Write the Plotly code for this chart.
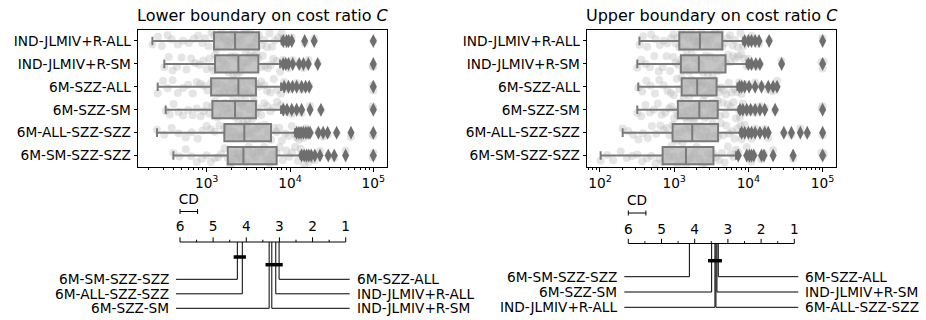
import math
import plotly.graph_objects as go

# ---------------- data ----------------
methods = ["IND-JLMIV+R-ALL", "IND-JLMIV+R-SM", "6M-SZZ-ALL",
           "6M-SZZ-SM", "6M-ALL-SZZ-SZZ", "6M-SM-SZZ-SZZ"]

# Lower boundary box statistics
lower_low = [223, 310, 258, 322, 253, 398]
lower_q1 = [1225, 1260, 1130, 1170, 1630, 1790]
lower_med = [2190, 2400, 2400, 2190, 2830, 2760]
lower_q3 = [4250, 4170, 3900, 3900, 5920, 6910]
lower_high = [7940, 7600, 7800, 7800, 11500, 13400]
lower_outliers = [
    [8300, 9100, 9600, 10500, 15000, 19500, 100000],
    [8300, 8900, 9600, 10800, 12900, 14500, 16600, 21500, 100000],
    [8500, 9600, 10700, 12000, 13800, 15400, 17000, 100000],
    [8300, 9200, 10500, 12000, 13800, 17400, 23500, 100000],
    [12000, 12800, 13600, 14500, 15500, 16500, 17400, 21900, 25000, 28300, 36300, 54000, 100000],
    [13800, 14800, 15800, 16800, 18000, 19900, 22900, 28800, 34000, 46500, 100000],
]
lower_inner = [
    [223, 260, 290, 340, 380, 450, 520, 610, 700, 790, 880, 960, 1050, 1140, 1225, 1310, 1400, 1500, 1600, 1700, 1800, 1900, 2000, 2100, 2190, 2320, 2450, 2600, 2750, 2900, 3100, 3300, 3500, 3750, 4000, 4250, 4550, 4900, 5300, 5700, 6100, 6600, 7200, 7940],
    [310, 350, 390, 440, 500, 570, 650, 730, 820, 910, 1000, 1080, 1150, 1210, 1260, 1350, 1450, 1570, 1700, 1820, 1950, 2080, 2200, 2300, 2400, 2520, 2650, 2800, 2950, 3120, 3300, 3500, 3700, 3950, 4170, 4450, 4700, 5000, 5400, 5850, 6300, 6900, 7600],
    [258, 300, 340, 390, 450, 520, 600, 680, 760, 840, 920, 1020, 1130, 1210, 1300, 1400, 1500, 1620, 1750, 1870, 2000, 2120, 2250, 2330, 2400, 2550, 2700, 2850, 3000, 3200, 3400, 3650, 3900, 4200, 4500, 4900, 5300, 5800, 6400, 7000, 7800],
    [322, 360, 400, 460, 520, 600, 680, 760, 850, 920, 1000, 1080, 1170, 1260, 1350, 1450, 1550, 1650, 1750, 1850, 1950, 2070, 2190, 2320, 2450, 2600, 2750, 2920, 3100, 3300, 3500, 3700, 3900, 4200, 4500, 4900, 5300, 5800, 6400, 7000, 7800],
    [253, 310, 380, 460, 560, 660, 780, 890, 1000, 1120, 1250, 1420, 1630, 1740, 1850, 1970, 2100, 2250, 2400, 2520, 2650, 2740, 2830, 3000, 3200, 3450, 3700, 4000, 4300, 4650, 5000, 5450, 5920, 6400, 6900, 7400, 8000, 8800, 9600, 10500, 11500],
    [398, 470, 560, 650, 760, 880, 1000, 1120, 1250, 1370, 1500, 1640, 1790, 1900, 2000, 2120, 2250, 2370, 2500, 2630, 2760, 2980, 3200, 3500, 3800, 4150, 4500, 4900, 5300, 5700, 6100, 6500, 6910, 7500, 8200, 9000, 9800, 10600, 11500, 12400, 13400],
]
lower_extra = [[], [98000], [98000], [98000], [98000], [98000]]

# Upper boundary box statistics
upper_low = [340, 318, 328, 318, 202, 102]
upper_q1 = [1170, 1230, 1260, 1120, 950, 698]
upper_med = [2220, 2150, 2040, 2180, 1750, 1440]
upper_q3 = [4450, 4920, 3720, 3860, 3900, 3380]
upper_high = [8500, 9500, 7100, 7400, 7800, 6800]
upper_outliers = [
    [8900, 10000, 11000, 12300, 13900, 19000, 100000],
    [10000, 11000, 12600, 14300, 28000, 100000],
    [7550, 8100, 8900, 10200, 12300, 15000, 18500, 21500, 24300],
    [7700, 8400, 9500, 10700, 12300, 14300, 16600, 22900, 100000],
    [8100, 8900, 10000, 11000, 12300, 14300, 16600, 18500, 30000, 38000, 50000, 62000, 100000],
    [7300, 9500, 10300, 11000, 11800, 15000, 16200, 21500, 40000, 100000],
]
upper_inner = [
    [340, 380, 430, 490, 560, 640, 720, 810, 900, 980, 1050, 1110, 1170, 1260, 1350, 1450, 1550, 1680, 1800, 1900, 2000, 2110, 2220, 2350, 2500, 2680, 2850, 3050, 3300, 3550, 3850, 4150, 4450, 4800, 5200, 5650, 6100, 6600, 7200, 7800, 8500],
    [318, 360, 410, 470, 540, 620, 700, 790, 880, 970, 1050, 1140, 1230, 1310, 1400, 1500, 1600, 1720, 1850, 2000, 2150, 2300, 2450, 2650, 2850, 3050, 3300, 3600, 3900, 4400, 4920, 5300, 5700, 6200, 6700, 7300, 8000, 8700, 9500],
    [328, 370, 420, 480, 550, 630, 720, 810, 900, 990, 1080, 1170, 1260, 1340, 1420, 1510, 1600, 1700, 1800, 1920, 2040, 2170, 2300, 2450, 2600, 2780, 2950, 3120, 3300, 3500, 3720, 4000, 4300, 4650, 5000, 5450, 5900, 6500, 7100],
    [318, 360, 410, 470, 530, 600, 680, 760, 850, 920, 1000, 1060, 1120, 1210, 1300, 1400, 1500, 1620, 1750, 1850, 1950, 2060, 2180, 2310, 2450, 2620, 2800, 3000, 3200, 3370, 3550, 3700, 3860, 4150, 4500, 4900, 5300, 5800, 6300, 6800, 7400],
    [202, 240, 280, 330, 380, 440, 500, 570, 650, 720, 800, 870, 950, 1020, 1100, 1200, 1300, 1400, 1500, 1620, 1750, 1870, 2000, 2170, 2350, 2550, 2750, 3000, 3300, 3600, 3900, 4250, 4600, 5000, 5500, 6000, 6500, 7100, 7800],
    [102, 125, 150, 190, 230, 270, 320, 370, 430, 490, 560, 630, 698, 770, 850, 920, 1000, 1100, 1200, 1320, 1440, 1560, 1700, 1850, 2000, 2200, 2400, 2620, 2850, 3100, 3380, 3700, 4000, 4400, 4800, 5300, 5800, 6300, 6800],
]
upper_extra = [[], [96000, 104000], [], [97000], [], [96000, 104000]]

# Critical difference diagrams: average ranks (same order as methods)
lower_rank = [3.11, 3.23, 3.01, 3.31, 4.12, 4.27]
upper_rank = [3.39, 3.33, 3.29, 3.49, 3.36, 4.16]
lower_cliques = [[4, 5], [0, 1, 2, 3]]
upper_cliques = [[0, 1, 2, 3, 4]]
cd_value = 0.53

titles = ["Lower boundary on cost ratio <i>C</i>", "Upper boundary on cost ratio <i>C</i>"]

# ---------------- styling ----------------
FONT = "DejaVu Sans"
FS = 13.7
W, H = 926, 320
LINE_GREY = "#7a7a7a"

fig = go.Figure()


def add_box_panel(xa_strip, xa, ya, low, q1, med, q3, high, outliers, inner, extra):
    # strip (jittered points) on a hidden linear axis in log10 units, drawn below the boxes
    xs, ys = [], []
    for m, a, b, c in zip(methods, inner, outliers, extra):
        vals = a + b + c
        xs += [math.log10(v) for v in vals]
        ys += [m] * len(vals)
    fig.add_trace(go.Box(
        x=xs, y=ys, orientation="h", boxpoints="all", jitter=1, pointpos=0,
        width=0.95, fillcolor="rgba(0,0,0,0)",
        line=dict(width=0, color="rgba(0,0,0,0)"),
        marker=dict(color="rgba(175,175,175,0.32)", size=8, line=dict(width=0)),
        xaxis=xa_strip, yaxis=ya, hoverinfo="skip", showlegend=False))
    fig.add_trace(go.Box(
        y=methods, q1=q1, median=med, q3=q3, lowerfence=low, upperfence=high,
        orientation="h", width=0.75, whiskerwidth=0.5,
        fillcolor="rgba(172,172,172,0.7)", line=dict(color=LINE_GREY, width=2),
        boxpoints=False, xaxis=xa, yaxis=ya, showlegend=False, hoverinfo="skip"))
    ox, oy = [], []
    for m, o in zip(methods, outliers):
        ox += o
        oy += [m] * len(o)
    fig.add_trace(go.Scatter(
        x=ox, y=oy, mode="markers",
        marker=dict(symbol="diamond-tall", size=10, color="#6e6e6e", line=dict(width=0)),
        xaxis=xa, yaxis=ya, showlegend=False, hoverinfo="skip"))


add_box_panel("x", "x5", "y", lower_low, lower_q1, lower_med, lower_q3, lower_high,
              lower_outliers, lower_inner, lower_extra)
add_box_panel("x2", "x6", "y2", upper_low, upper_q1, upper_med, upper_q3, upper_high,
              upper_outliers, upper_inner, upper_extra)


def add_cd(xa, ya, ranks, cliques, geo):
    # axis line and ticks
    lx, ly = [6, 1, None], [0, 0, None]
    for k in range(11):
        r = 6 - 0.5 * k
        L = 4.7 if k % 2 == 0 else 2.3
        lx += [r, r, None]
        ly += [0, -L, None]
    # CD bar
    cy = geo["cd_y"]
    lx += [6, 6 - cd_value, None, 6, 6, None, 6 - cd_value, 6 - cd_value, None]
    ly += [cy, cy, None, cy - 2.5, cy + 2.5, None, cy - 2.5, cy + 2.5, None]
    # method lines
    order = sorted(range(len(ranks)), key=lambda i: -ranks[i])
    half = len(ranks) // 2
    left = order[:half]
    right = sorted(order[half:], key=lambda i: ranks[i])
    for row, i in enumerate(left):
        y = geo["row0"] + row * geo["row_step"]
        lx += [ranks[i], ranks[i], 6.12, None]
        ly += [0, y, y, None]
        fig.add_annotation(x=6.27, y=y, xref=xa, yref=ya, text=methods[i],
                           showarrow=False, xanchor="right", yanchor="middle",
                           font=dict(family=FONT, size=FS, color="black"))
    for row, i in enumerate(right):
        y = geo["row0"] + row * geo["row_step"]
        lx += [ranks[i], ranks[i], 0.88, None]
        ly += [0, y, y, None]
        fig.add_annotation(x=0.73, y=y, xref=xa, yref=ya, text=methods[i],
                           showarrow=False, xanchor="left", yanchor="middle",
                           font=dict(family=FONT, size=FS, color="black"))
    fig.add_trace(go.Scatter(x=lx, y=ly, mode="lines",
                             line=dict(color="black", width=1),
                             xaxis=xa, yaxis=ya, showlegend=False, hoverinfo="skip"))
    # clique bars
    bx, by = [], []
    for c, members in enumerate(cliques):
        rs = [ranks[i] for i in members]
        y = geo["clique0"] + c * geo["clique_step"]
        bx += [max(rs) + 0.11, min(rs) - 0.11, None]
        by += [y, y, None]
    fig.add_trace(go.Scatter(x=bx, y=by, mode="lines",
                             line=dict(color="black", width=3.5),
                             xaxis=xa, yaxis=ya, showlegend=False, hoverinfo="skip"))
    # tick labels and CD text
    fig.add_trace(go.Scatter(
        x=[6, 5, 4, 3, 2, 1, 6 - cd_value / 2],
        y=[geo["lab_y"]] * 6 + [geo["cdtext_y"]],
        text=["6", "5", "4", "3", "2", "1", "CD"], mode="text",
        textfont=dict(family=FONT, size=FS, color="black"),
        xaxis=xa, yaxis=ya, showlegend=False, hoverinfo="skip"))


geo_lower = dict(cd_y=-30.5, cdtext_y=-41, lab_y=-14.5, clique0=15, clique_step=7.7,
                 row0=37.3, row_step=14.5)
geo_upper = dict(cd_y=-30.5, cdtext_y=-42, lab_y=-13, clique0=17.2, clique_step=7.7,
                 row0=33.2, row_step=15.3)
add_cd("x3", "y3", lower_rank, lower_cliques, geo_lower)
add_cd("x4", "y4", upper_rank, upper_cliques, geo_upper)

# ---------------- layout ----------------
minor_vals = [m * 10 ** e for e in range(1, 5) for m in range(2, 10)]
rng1 = [2.179, 5.168]
rng2 = [1.829, 5.18]


def xlog(base, rng, tickexps):
    return dict(
        type="log", overlaying=base, range=rng,
        tickvals=[10 ** e for e in tickexps],
        ticktext=["10<sup>%d</sup>" % e for e in tickexps],
        ticks="outside", ticklen=3.5, tickwidth=1, tickcolor="black",
        minor=dict(tickvals=minor_vals, ticks="outside", ticklen=2, tickwidth=0.8,
                   tickcolor="black", showgrid=False),
        showline=True, mirror=True, linecolor="black", linewidth=1.3,
        showgrid=False, zeroline=False, side="bottom",
        tickfont=dict(family=FONT, size=FS, color="black"))


def ycat(domain, anchor):
    return dict(
        domain=domain, anchor=anchor, type="category", categoryorder="array",
        categoryarray=methods, range=[5.5, -0.5],
        ticks="outside", ticklen=3.5, tickwidth=1, tickcolor="black",
        showline=True, mirror=True, linecolor="black", linewidth=1.3,
        showgrid=False, zeroline=False,
        tickfont=dict(family=FONT, size=FS, color="black"))


ydom = [1 - 167 / H, 1 - 29.5 / H]
xd1 = [138.3 / W, 387.3 / W]
xd2 = [587.3 / W, 836 / W]

fig.update_layout(
    width=W, height=H, margin=dict(l=0, r=0, t=0, b=0),
    paper_bgcolor="white", plot_bgcolor="white",
    boxmode="overlay",
    font=dict(family=FONT, size=FS, color="black"),
    xaxis=dict(domain=xd1, anchor="y", range=rng1, visible=False),
    xaxis5=dict(anchor="y", **xlog("x", rng1, [3, 4, 5])),
    yaxis=ycat(ydom, "x"),
    xaxis2=dict(domain=xd2, anchor="y2", range=rng2, visible=False),
    xaxis6=dict(anchor="y2", **xlog("x2", rng2, [2, 3, 4, 5])),
    yaxis2=ycat(ydom, "x2"),
    xaxis3=dict(domain=[0, 0.5], anchor="y3", range=[6 + 180 / 33.14, 1 - (463 - 345.7) / 33.14],
                visible=False),
    yaxis3=dict(domain=[0, (H - 185) / H], anchor="x3", range=[78, -57], visible=False),
    xaxis4=dict(domain=[0.5, 1], anchor="y4", range=[6 + (628.3 - 463) / 33.2, 1 - (926 - 794.3) / 33.2],
                visible=False),
    yaxis4=dict(domain=[0, (H - 185) / H], anchor="x4", range=[76.5, -58.5], visible=False),
)

for k, t in enumerate(titles):
    d = [xd1, xd2][k]
    fig.add_annotation(x=(d[0] + d[1]) / 2, y=1 - 15 / H, xref="paper", yref="paper",
                       text=t, showarrow=False, xanchor="center", yanchor="middle",
                       font=dict(family=FONT, size=16, color="black"))

fig.write_html("out.html", config={"displayModeBar": False},
               post_script=["document.body.style.margin='0';"
                            "document.body.style.padding='0';"
                            "document.body.style.overflow='hidden';"])
